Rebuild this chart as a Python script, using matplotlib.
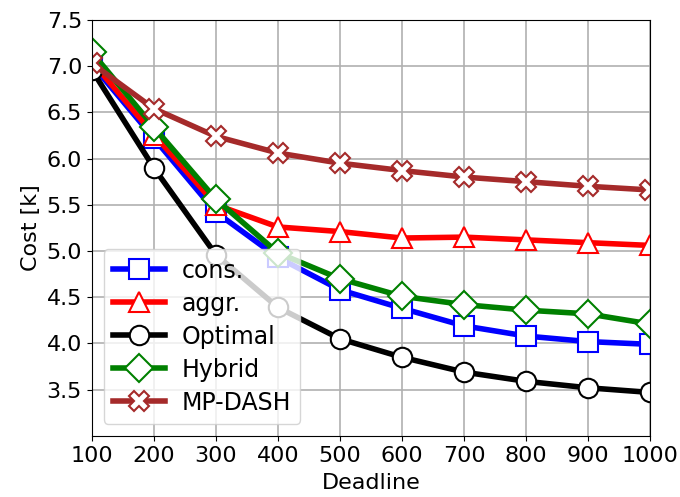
import matplotlib
matplotlib.use("Agg")
import matplotlib.pyplot as plt

deadline = [100, 200, 300, 400, 500, 600, 700, 800, 900, 1000]

cons = [7.02, 6.22, 5.42, 4.93, 4.58, 4.38, 4.19, 4.08, 4.02, 3.99]
aggr = [7.05, 6.26, 5.50, 5.26, 5.21, 5.14, 5.15, 5.12, 5.09, 5.06]
optimal = [6.96, 5.90, 4.96, 4.39, 4.05, 3.85, 3.69, 3.59, 3.52, 3.47]
hybrid = [7.15, 6.34, 5.56, 4.98, 4.70, 4.51, 4.42, 4.36, 4.32, 4.21]
mpdash = [7.03, 6.54, 6.24, 6.06, 5.95, 5.87, 5.80, 5.75, 5.70, 5.66]

series = [
    ("cons.", cons, "blue", "s", 14),
    ("aggr.", aggr, "red", "^", 14),
    ("Optimal", optimal, "black", "o", 14),
    ("Hybrid", hybrid, "green", "D", 14),
    ("MP-DASH", mpdash, "brown", "X", 15),
]

fig = plt.figure(figsize=(6.8, 4.97), dpi=100)
ax = fig.add_axes([0.135, 0.123, 0.821, 0.837])

for name, vals, col, mk, ms in series:
    ax.plot(deadline, vals, color=col, marker=mk, markersize=ms, linewidth=4,
            markerfacecolor="white", markeredgecolor=col, markeredgewidth=1.5,
            label=name)

ax.set_xlim(100, 1000)
ax.set_ylim(3.0, 7.5)
ax.set_xticks(deadline)
ax.set_yticks([3.5, 4.0, 4.5, 5.0, 5.5, 6.0, 6.5, 7.0, 7.5])
ax.tick_params(labelsize=16)
ax.grid(True, color="#b0b0b0", linewidth=1.2)
ax.set_xlabel("Deadline", fontsize=16, labelpad=5)
ax.set_ylabel("Cost [k]", fontsize=16)
ax.legend(loc="lower left", fontsize=17, handlelength=2.2, labelspacing=0.38,
          borderpad=0.4, handletextpad=0.7)

fig.savefig("out.png", dpi=100)
